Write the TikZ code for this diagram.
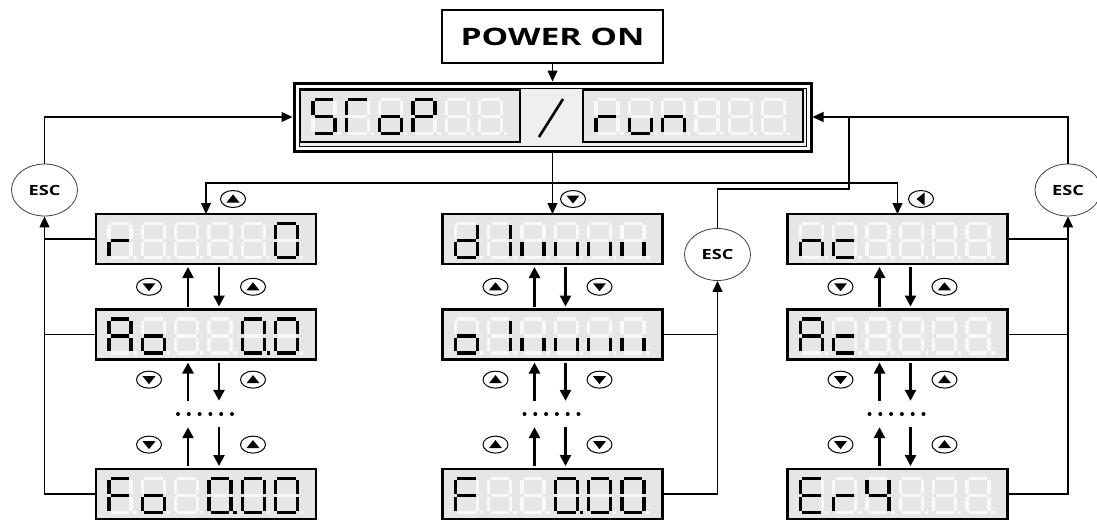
\documentclass[tikz,border=0pt]{standalone}
\usepackage{fontspec}
\setsansfont{Open Sans}
\usetikzlibrary{arrows.meta,positioning,shapes.geometric,calc}
\definecolor{LcdBack}{HTML}{E6E6E6}
\definecolor{LcdFaint}{HTML}{F8F8F8}
\definecolor{PanelBack}{HTML}{EFEFEF}

\makeatletter
% one digit: #1 top left corner, #2 lit segments a..g, p = point
\newcommand{\sevenseg}[2]{%
  \begin{scope}[shift={#1}]
    \foreach \sg/\pa/\pb in {a/{(1.8,0)}/{(20.2,0)},b/{(22,1.8)}/{(22,15.2)},c/{(22,18.8)}/{(22,32.2)},
      d/{(1.8,34)}/{(20.2,34)},e/{(0,18.8)}/{(0,32.2)},f/{(0,1.8)}/{(0,15.2)},g/{(1.8,17)}/{(20.2,17)}}{
      \edef\segtest{\noexpand\in@{\sg}{#2}}\segtest
      \ifin@ \draw[segon] \pa -- \pb; \else \draw[segoff] \pa -- \pb; \fi
    }
    \edef\segtest{\noexpand\in@{p}{#2}}\segtest
    \ifin@ \fill (24.3,32.3) rectangle (27.7,35.7); \else \fill[LcdFaint] (24.3,32.3) rectangle (27.7,35.7); \fi
  \end{scope}}
\makeatother
% six digits in display box #1
\newcommand{\lcdrow}[2]{%
  \foreach \code [count=\k from 0] in {#2}{\sevenseg{($(#1.north west)+(13+33.3*\k,9.5)$)}{\code}}}
% key icon: #1 name, #2 centre, #3 turn of the triangle (0 up, 90 left, 180 down)
\newcommand{\keyicon}[3]{%
  \node[keybtn] (#1) at #2 {};
  \fill[shift={(#1.center)},rotate=#3] (-6.5,3.5) -- (6.5,3.5) -- (0,-4.5) -- cycle;}

\begin{document}
\begin{tikzpicture}[x=1pt,y=-1pt,
  >={Triangle[length=11pt,width=10pt]},
  lcd/.style={draw,line width=2.6pt,fill=LcdBack,minimum width=220pt,minimum height=50pt,inner sep=0pt,outer sep=0pt},
  segon/.style={draw=black,line width=3.3pt},
  segoff/.style={draw=LcdFaint,line width=3.3pt},
  link/.style={line width=1.2pt},
  stepline/.style={line width=2.5pt,shorten <=3pt,shorten >=3pt,-{Triangle[length=11pt,width=11pt]}},
  escbtn/.style={ellipse,draw=black!75,line width=0.8pt,fill=white,minimum width=66pt,minimum height=52pt,inner sep=0pt,font=\sffamily\bfseries\fontsize{14}{14}\selectfont},
  keybtn/.style={ellipse,draw,line width=1pt,minimum width=25pt,minimum height=17pt,inner sep=0pt},
  dotrow/.style={minimum width=56pt,minimum height=20pt,inner sep=0pt}]
\useasboundingbox (0,0) rectangle (1097,520);

% power on and the main display
\node[draw,line width=2pt,minimum width=221pt,minimum height=53pt,inner sep=0pt,font=\sffamily\bfseries\fontsize{24}{24}\selectfont] (poweron) at (552.5,36.5) {\scalebox{1.4}[1]{POWER ON}};
\node[draw,line width=3pt,fill=white,minimum width=517pt,minimum height=68pt] (mainbox) at (552.5,117) {};
\node[draw,line width=1pt,fill=PanelBack,minimum width=507pt,minimum height=58pt] (mainfill) at (mainbox.center) {};
\node[lcd,minimum height=52pt] (stopbox) at (410,116) {};
\node[lcd,minimum height=52pt] (runbox) at (693,116) {};
\draw[line width=2.6pt] (539,137) -- (563,99);
\lcdrow{stopbox}{acdfg,aef,cdeg,abefg,-,-}
\lcdrow{runbox}{eg,cde,ceg,-,-,-}

% three columns of displays
\node[lcd] (left1) at (206,239) {};
\node[lcd] (left2) at (206,334.5) {};
\node[dotrow] (leftdots) at (206,414) {};
\node[lcd] (left3) at (206,494) {};
\node[lcd] (mid1) at (552.5,239) {};
\node[lcd] (mid2) at (552.5,334.5) {};
\node[dotrow] (middots) at (552.5,414) {};
\node[lcd] (mid3) at (552.5,494) {};
\node[lcd] (right1) at (897.5,239) {};
\node[lcd] (right2) at (897.5,334.5) {};
\node[dotrow] (rightdots) at (897.5,414) {};
\node[lcd] (right3) at (897.5,494) {};
\lcdrow{left1}{eg,-,-,-,-,abcdef}
\lcdrow{left2}{abcefg,cdeg,-,-,abcdefp,abcdef}
\lcdrow{left3}{aefg,cdeg,-,abcdefp,abcdef,abcdef}
\lcdrow{mid1}{bcdeg,bc,ce,ce,ce,ce}
\lcdrow{mid2}{cdeg,bc,ce,ce,ce,ce}
\lcdrow{mid3}{aefg,-,-,abcdefp,abcdef,abcdef}
\lcdrow{right1}{ceg,deg,-,-,-,-}
\lcdrow{right2}{abcefg,deg,-,-,-,-}
\lcdrow{right3}{adefg,eg,bcfg,-,-,-}

% esc keys
\node[escbtn] (escleft) at (44.5,190) {\scalebox{1.3}[1]{ESC}};
\node[escbtn] (escmid) at (717.5,254.5) {\scalebox{1.3}[1]{ESC}};
\node[escbtn] (escright) at (1068,190) {\scalebox{1.3}[1]{ESC}};

\draw[link,->] (poweron.south) -- (mainbox.north);
\draw[link,->] (escleft.north) |- (mainbox.west);
\draw[link,->] (escright.north) |- (mainbox.east);
\coordinate (escturn) at (849,189);
\draw[link] (escmid.north) |- (escturn) -- (escturn |- mainbox.east);
\draw[link,->] (left3.west) -| (escleft.south);
\draw[link] (left1.west) -- (left1.west -| escleft.south);
\draw[link] (left2.west) -- (left2.west -| escleft.south);
\draw[link,->] (right3.east) -| (escright.south);
\draw[link] (right1.east) -- (right1.east -| escright.south);
\draw[link] (right2.east) -- (right2.east -| escright.south);
\draw[link,->] (mid3.east) -| (escmid.south);
\draw[link] (mid2.east) -- (mid2.east -| escmid.south);

% from the main display into the columns
\coordinate (fork) at (552.5,183);
\draw[link,->] (mainbox.south) -- (mid1.north);
\draw[link,->] (fork) -| (left1.north);
\draw[link,->] (fork) -| (right1.north);
\keyicon{keyleft}{(233,199)}{0}
\keyicon{keymid}{(573,199)}{180}
\keyicon{keyright}{(921,199)}{90}

% up/down steps inside each column
\foreach \col/\lk/\rk in {left/180/0,mid/0/180,right/180/0}{
  \draw[stepline] ([xshift=-18pt]\col2.north) -- ([xshift=-18pt]\col1.south);
  \draw[stepline] ([xshift=13pt]\col1.south) -- ([xshift=13pt]\col2.north);
  \draw[stepline] ([xshift=-18pt]\col dots.north) -- ([xshift=-18pt]\col2.south);
  \draw[stepline] ([xshift=13pt]\col2.south) -- ([xshift=13pt]\col dots.north);
  \draw[stepline] ([xshift=-18pt]\col3.north) -- ([xshift=-18pt]\col dots.south);
  \draw[stepline] ([xshift=13pt]\col dots.south) -- ([xshift=13pt]\col3.north);
  \keyicon{\col-a1}{($(\col1.south)!0.5!(\col2.north)+(-57,0)$)}{\lk}
  \keyicon{\col-b1}{($(\col1.south)!0.5!(\col2.north)+(47,0)$)}{\rk}
  \keyicon{\col-a2}{($(\col2.south)!0.5!(\col dots.north)+(-57,-2)$)}{\lk}
  \keyicon{\col-b2}{($(\col2.south)!0.5!(\col dots.north)+(47,-2)$)}{\rk}
  \keyicon{\col-a3}{($(\col dots.south)!0.5!(\col3.north)+(-57,-2)$)}{\lk}
  \keyicon{\col-b3}{($(\col dots.south)!0.5!(\col3.north)+(47,-2)$)}{\rk}
  \foreach \i in {0,...,5} \fill ([xshift=-28pt+\i*10.8pt]\col dots.center) circle (2);
}
\end{tikzpicture}
\end{document}
